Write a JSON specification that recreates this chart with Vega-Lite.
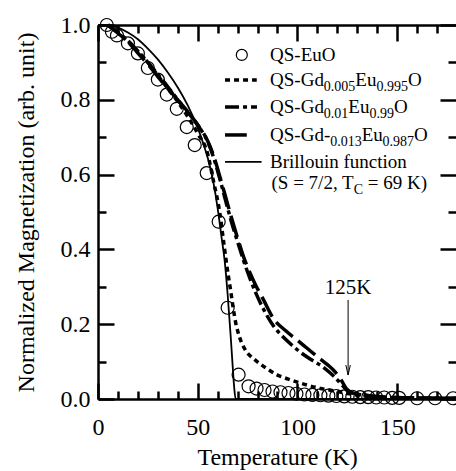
{
  "$schema": "https://vega.github.io/schema/vega-lite/v6.json",
  "width": 358,
  "height": 374,
  "autosize": {"type": "none"},
  "padding": {"left": 98, "top": 25, "right": 0, "bottom": 72},
  "config": {
    "view": {"stroke": null},
    "axis": {
      "domainColor": "black", "domainWidth": 2.5,
      "tickColor": "black", "tickWidth": 2.5,
      "labelFont": "Liberation Serif", "labelFontSize": 24, "labelColor": "black",
      "titleFont": "Liberation Serif", "titleFontSize": 24, "titleFontWeight": "normal", "titleColor": "black",
      "grid": false
    },
    "point": {"shape": "circle", "filled": false, "stroke": "black", "strokeWidth": 1.2, "size": 169, "opacity": 1},
    "text": {"font": "Liberation Serif", "color": "black"}
  },
  "resolve": {"axis": {"x": "independent", "y": "independent"}},
  "layer": [
    {
      "data": {"values": [
        {"T": 4.4, "M": 1.0}, {"T": 7, "M": 0.982}, {"T": 9.5, "M": 0.972}, {"T": 15, "M": 0.951}
      ]},
      "mark": "point",
      "encoding": {
        "x": {"field": "T", "type": "quantitative", "scale": {"domain": [0, 179.5], "nice": false},
          "axis": {"orient": "bottom", "values": [0, 50, 100, 150], "ticks": false, "domain": true, "labelPadding": 16, "labelFlush": false, "titlePadding": 6,
            "title": "Temperature (K)"}},
        "y": {"field": "M", "type": "quantitative", "scale": {"domain": [0, 1], "nice": false},
          "axis": {"orient": "left", "values": [0, 0.2, 0.4, 0.6, 0.8, 1.0], "format": ".1f", "ticks": false, "domain": true, "labelPadding": 8, "labelFlush": false, "titlePadding": 22,
            "title": "Normalized Magnetization (arb. unit)"}}
      }
    },
    {
      "data": {"values": [
        {"T": 20, "M": 0.924}, {"T": 25, "M": 0.885}, {"T": 30, "M": 0.854}, {"T": 34.5, "M": 0.814},
        {"T": 39.5, "M": 0.776}, {"T": 44.5, "M": 0.727}
      ]},
      "mark": "point",
      "encoding": {
        "x": {"field": "T", "type": "quantitative",
          "axis": {"orient": "bottom", "values": [0, 50, 100, 150], "tickSize": -16, "labels": false, "domain": false, "title": null}},
        "y": {"field": "M", "type": "quantitative",
          "axis": {"orient": "left", "values": [0, 0.2, 0.4, 0.6, 0.8, 1.0], "tickSize": -16, "labels": false, "domain": false, "title": null}}
      }
    },
    {
      "data": {"values": [
        {"T": 48.5, "M": 0.679}, {"T": 54.5, "M": 0.604}, {"T": 60.5, "M": 0.474}, {"T": 65, "M": 0.244}
      ]},
      "mark": "point",
      "encoding": {
        "x": {"field": "T", "type": "quantitative",
          "axis": {"orient": "bottom", "values": [10, 20, 30, 40, 60, 70, 80, 90, 110, 120, 130, 140, 160, 170], "tickSize": -8, "labels": false, "domain": false, "title": null}},
        "y": {"field": "M", "type": "quantitative",
          "axis": {"orient": "left", "values": [0.1, 0.3, 0.5, 0.7, 0.9], "tickSize": -8, "labels": false, "domain": false, "title": null}}
      }
    },
    {
      "data": {"values": [
        {"T": 70.5, "M": 0.065}, {"T": 75.5, "M": 0.034}, {"T": 79.5, "M": 0.028}, {"T": 83.5, "M": 0.024},
        {"T": 87.5, "M": 0.02}, {"T": 91.5, "M": 0.018}, {"T": 95.5, "M": 0.016}, {"T": 99.5, "M": 0.014},
        {"T": 103.5, "M": 0.012}, {"T": 107.5, "M": 0.011}
      ]},
      "mark": "point",
      "encoding": {
        "x": {"field": "T", "type": "quantitative",
          "axis": {"orient": "top", "values": [0, 50, 100, 150], "tickSize": -16, "labels": false, "domain": true, "title": null}},
        "y": {"field": "M", "type": "quantitative",
          "axis": {"orient": "right", "values": [0, 0.2, 0.4, 0.6, 0.8, 1.0], "tickSize": -16, "labels": false, "domain": false, "title": null}}
      }
    },
    {
      "data": {"values": [
        {"T": 111.5, "M": 0.01}, {"T": 115.5, "M": 0.009}, {"T": 119.5, "M": 0.008}, {"T": 123.5, "M": 0.007},
        {"T": 127.5, "M": 0.006}, {"T": 131.5, "M": 0.005}, {"T": 135.5, "M": 0.005}, {"T": 139.5, "M": 0.004},
        {"T": 143.5, "M": 0.004}, {"T": 147.5, "M": 0.003}, {"T": 151, "M": 0.003}, {"T": 160, "M": 0.002},
        {"T": 169, "M": 0.002}, {"T": 178, "M": 0.002}
      ]},
      "mark": "point",
      "encoding": {
        "x": {"field": "T", "type": "quantitative",
          "axis": {"orient": "top", "values": [10, 20, 30, 40, 60, 70, 80, 90, 110, 120, 130, 140, 160, 170], "tickSize": -8, "labels": false, "domain": false, "title": null}},
        "y": {"field": "M", "type": "quantitative",
          "axis": {"orient": "right", "values": [0.1, 0.3, 0.5, 0.7, 0.9], "tickSize": -8, "labels": false, "domain": false, "title": null}}
      }
    },
    {
      "resolve": {"axis": {"x": "shared", "y": "shared"}},
      "encoding": {
        "x": {"axis": {"orient": "bottom", "labels": false, "ticks": false, "domain": false, "title": null}},
        "y": {"axis": {"orient": "left", "labels": false, "ticks": false, "domain": false, "title": null}}
      },
      "layer": [
        {
          "data": {"values": [
            {"T": 0, "M": 1.0}, {"T": 5, "M": 0.999}, {"T": 10, "M": 0.993}, {"T": 15, "M": 0.98},
            {"T": 20, "M": 0.962}, {"T": 25, "M": 0.937}, {"T": 30, "M": 0.908}, {"T": 35, "M": 0.873},
            {"T": 40, "M": 0.833}, {"T": 45, "M": 0.785}, {"T": 50, "M": 0.725}, {"T": 53, "M": 0.68},
            {"T": 56, "M": 0.625}, {"T": 58, "M": 0.575}, {"T": 60, "M": 0.51}, {"T": 62, "M": 0.43},
            {"T": 63.5, "M": 0.37}, {"T": 65, "M": 0.28}, {"T": 66.5, "M": 0.17}, {"T": 67.5, "M": 0.09},
            {"T": 68.3, "M": 0.03}, {"T": 69, "M": 0.0}, {"T": 179.5, "M": 0.0}
          ]},
          "mark": {"type": "line", "stroke": "black", "strokeWidth": 1.8, "interpolate": "monotone"},
          "encoding": {"x": {"field": "T", "type": "quantitative"}, "y": {"field": "M", "type": "quantitative"}}
        },
        {
          "data": {"values": [
            {"T": 5, "M": 1.0}, {"T": 10, "M": 0.98}, {"T": 15, "M": 0.955}, {"T": 20, "M": 0.93},
            {"T": 25, "M": 0.9}, {"T": 30, "M": 0.865}, {"T": 35, "M": 0.83}, {"T": 40, "M": 0.795},
            {"T": 45, "M": 0.755}, {"T": 50, "M": 0.71}, {"T": 55, "M": 0.655}, {"T": 58, "M": 0.58},
            {"T": 61, "M": 0.5}, {"T": 63, "M": 0.42}, {"T": 64.5, "M": 0.36}, {"T": 66.5, "M": 0.29},
            {"T": 69, "M": 0.205}, {"T": 71, "M": 0.165}, {"T": 74, "M": 0.13}, {"T": 78, "M": 0.108},
            {"T": 81, "M": 0.095}, {"T": 85, "M": 0.08}, {"T": 90, "M": 0.064}, {"T": 95, "M": 0.054},
            {"T": 100, "M": 0.045}, {"T": 105, "M": 0.037}, {"T": 111, "M": 0.029}, {"T": 116, "M": 0.024},
            {"T": 121, "M": 0.019}, {"T": 126, "M": 0.014}, {"T": 130, "M": 0.01}, {"T": 135, "M": 0.007},
            {"T": 140, "M": 0.005}, {"T": 150, "M": 0.003}, {"T": 165, "M": 0.002}, {"T": 179.5, "M": 0.002}
          ]},
          "mark": {"type": "line", "stroke": "black", "strokeWidth": 3.5, "strokeDash": [5, 4], "strokeCap": "butt", "interpolate": "monotone"},
          "encoding": {"x": {"field": "T", "type": "quantitative"}, "y": {"field": "M", "type": "quantitative"}}
        },
        {
          "data": {"values": [
            {"T": 5, "M": 1.0}, {"T": 10, "M": 0.98}, {"T": 15, "M": 0.958}, {"T": 20, "M": 0.93},
            {"T": 25, "M": 0.9}, {"T": 30, "M": 0.868}, {"T": 35, "M": 0.835}, {"T": 40, "M": 0.8},
            {"T": 45, "M": 0.768}, {"T": 50, "M": 0.732}, {"T": 55, "M": 0.688}, {"T": 58, "M": 0.645},
            {"T": 61, "M": 0.59}, {"T": 64, "M": 0.53}, {"T": 67, "M": 0.472}, {"T": 70, "M": 0.42},
            {"T": 73, "M": 0.37}, {"T": 76, "M": 0.325}, {"T": 79, "M": 0.285}, {"T": 83, "M": 0.24},
            {"T": 88, "M": 0.195}, {"T": 93, "M": 0.165}, {"T": 97, "M": 0.145}, {"T": 101, "M": 0.127},
            {"T": 107, "M": 0.105}, {"T": 113, "M": 0.085}, {"T": 118, "M": 0.062}, {"T": 122, "M": 0.04},
            {"T": 125, "M": 0.022}, {"T": 128, "M": 0.015}, {"T": 132, "M": 0.011}, {"T": 138, "M": 0.007},
            {"T": 145, "M": 0.004}, {"T": 155, "M": 0.003}, {"T": 179.5, "M": 0.002}
          ]},
          "mark": {"type": "line", "stroke": "black", "strokeWidth": 3.5, "strokeDash": [14, 4, 4, 4], "strokeCap": "butt", "interpolate": "monotone"},
          "encoding": {"x": {"field": "T", "type": "quantitative"}, "y": {"field": "M", "type": "quantitative"}}
        },
        {
          "data": {"values": [
            {"T": 5, "M": 1.0}, {"T": 10, "M": 0.978}, {"T": 15, "M": 0.955}, {"T": 20, "M": 0.925},
            {"T": 25, "M": 0.895}, {"T": 30, "M": 0.862}, {"T": 35, "M": 0.83}, {"T": 40, "M": 0.8},
            {"T": 45, "M": 0.767}, {"T": 50, "M": 0.733}, {"T": 55, "M": 0.69}, {"T": 58, "M": 0.65},
            {"T": 61, "M": 0.596}, {"T": 64, "M": 0.54}, {"T": 67, "M": 0.483}, {"T": 70, "M": 0.43},
            {"T": 73, "M": 0.38}, {"T": 76, "M": 0.34}, {"T": 79, "M": 0.305}, {"T": 83, "M": 0.265},
            {"T": 88, "M": 0.215}, {"T": 94, "M": 0.183}, {"T": 100, "M": 0.157}, {"T": 105, "M": 0.135},
            {"T": 110, "M": 0.113}, {"T": 115, "M": 0.092}, {"T": 119, "M": 0.072}, {"T": 122, "M": 0.05},
            {"T": 124.5, "M": 0.028}, {"T": 127, "M": 0.018}, {"T": 131, "M": 0.013}, {"T": 136, "M": 0.009},
            {"T": 142, "M": 0.006}, {"T": 150, "M": 0.004}, {"T": 160, "M": 0.003}, {"T": 179.5, "M": 0.002}
          ]},
          "mark": {"type": "line", "stroke": "black", "strokeWidth": 3.5, "strokeDash": [22, 7], "strokeCap": "butt", "interpolate": "monotone"},
          "encoding": {"x": {"field": "T", "type": "quantitative"}, "y": {"field": "M", "type": "quantitative"}}
        },
        {
          "data": {"values": [{}]},
          "mark": {"type": "point", "size": 121},
          "encoding": {"x": {"datum": 72.1}, "y": {"datum": 0.92}}
        },
        {
          "data": {"values": [{}]},
          "mark": {"type": "rule", "stroke": "black", "strokeWidth": 3.5, "strokeDash": [5, 4], "strokeCap": "butt"},
          "encoding": {"x": {"datum": 63.7}, "x2": {"datum": 79.6}, "y": {"datum": 0.853}}
        },
        {
          "data": {"values": [{}]},
          "mark": {"type": "rule", "stroke": "black", "strokeWidth": 3.5, "strokeDash": [14, 4, 4, 4], "strokeCap": "butt"},
          "encoding": {"x": {"datum": 63.7}, "x2": {"datum": 79.7}, "y": {"datum": 0.781}}
        },
        {
          "data": {"values": [{}]},
          "mark": {"type": "rule", "stroke": "black", "strokeWidth": 3.5, "strokeDash": [22, 7], "strokeCap": "butt"},
          "encoding": {"x": {"datum": 63.7}, "x2": {"datum": 74.6}, "y": {"datum": 0.706}}
        },
        {
          "data": {"values": [{}]},
          "mark": {"type": "rule", "stroke": "black", "strokeWidth": 1.8},
          "encoding": {"x": {"datum": 63.7}, "x2": {"datum": 82.0}, "y": {"datum": 0.634}}
        },
        {"data": {"values": [{}]}, "mark": {"type": "text", "text": "QS-EuO", "fontSize": 19, "align": "left", "baseline": "middle"},
          "encoding": {"x": {"datum": 86.26}, "y": {"datum": 0.92}}},

        {"data": {"values": [{}]}, "mark": {"type": "text", "text": "QS-Gd", "fontSize": 19, "align": "left", "baseline": "middle"},
          "encoding": {"x": {"datum": 86.26}, "y": {"datum": 0.853}}},
        {"data": {"values": [{}]}, "mark": {"type": "text", "text": "0.005", "fontSize": 14, "align": "left", "baseline": "middle", "dy": 7},
          "encoding": {"x": {"datum": 113.2}, "y": {"datum": 0.853}}},
        {"data": {"values": [{}]}, "mark": {"type": "text", "text": "Eu", "fontSize": 19, "align": "left", "baseline": "middle"},
          "encoding": {"x": {"datum": 129.0}, "y": {"datum": 0.853}}},
        {"data": {"values": [{}]}, "mark": {"type": "text", "text": "0.995", "fontSize": 14, "align": "left", "baseline": "middle", "dy": 7},
          "encoding": {"x": {"datum": 139.6}, "y": {"datum": 0.853}}},
        {"data": {"values": [{}]}, "mark": {"type": "text", "text": "O", "fontSize": 19, "align": "left", "baseline": "middle"},
          "encoding": {"x": {"datum": 155.4}, "y": {"datum": 0.853}}},

        {"data": {"values": [{}]}, "mark": {"type": "text", "text": "QS-Gd", "fontSize": 19, "align": "left", "baseline": "middle"},
          "encoding": {"x": {"datum": 86.26}, "y": {"datum": 0.781}}},
        {"data": {"values": [{}]}, "mark": {"type": "text", "text": "0.01", "fontSize": 14, "align": "left", "baseline": "middle", "dy": 7},
          "encoding": {"x": {"datum": 113.2}, "y": {"datum": 0.781}}},
        {"data": {"values": [{}]}, "mark": {"type": "text", "text": "Eu", "fontSize": 19, "align": "left", "baseline": "middle"},
          "encoding": {"x": {"datum": 125.5}, "y": {"datum": 0.781}}},
        {"data": {"values": [{}]}, "mark": {"type": "text", "text": "0.99", "fontSize": 14, "align": "left", "baseline": "middle", "dy": 7},
          "encoding": {"x": {"datum": 136.1}, "y": {"datum": 0.781}}},
        {"data": {"values": [{}]}, "mark": {"type": "text", "text": "O", "fontSize": 19, "align": "left", "baseline": "middle"},
          "encoding": {"x": {"datum": 148.4}, "y": {"datum": 0.781}}},

        {"data": {"values": [{}]}, "mark": {"type": "text", "text": "QS-Gd-", "fontSize": 19, "align": "left", "baseline": "middle"},
          "encoding": {"x": {"datum": 86.26}, "y": {"datum": 0.706}}},
        {"data": {"values": [{}]}, "mark": {"type": "text", "text": "0.013", "fontSize": 14, "align": "left", "baseline": "middle", "dy": 7},
          "encoding": {"x": {"datum": 116.4}, "y": {"datum": 0.706}}},
        {"data": {"values": [{}]}, "mark": {"type": "text", "text": "Eu", "fontSize": 19, "align": "left", "baseline": "middle"},
          "encoding": {"x": {"datum": 132.2}, "y": {"datum": 0.706}}},
        {"data": {"values": [{}]}, "mark": {"type": "text", "text": "0.987", "fontSize": 14, "align": "left", "baseline": "middle", "dy": 7},
          "encoding": {"x": {"datum": 142.7}, "y": {"datum": 0.706}}},
        {"data": {"values": [{}]}, "mark": {"type": "text", "text": "O", "fontSize": 19, "align": "left", "baseline": "middle"},
          "encoding": {"x": {"datum": 158.5}, "y": {"datum": 0.706}}},

        {"data": {"values": [{}]}, "mark": {"type": "text", "text": "Brillouin function", "fontSize": 19, "align": "left", "baseline": "middle"},
          "encoding": {"x": {"datum": 86.26}, "y": {"datum": 0.634}}},

        {"data": {"values": [{}]}, "mark": {"type": "text", "text": "(S = 7/2, T", "fontSize": 19, "align": "left", "baseline": "middle"},
          "encoding": {"x": {"datum": 87.0}, "y": {"datum": 0.578}}},
        {"data": {"values": [{}]}, "mark": {"type": "text", "text": "C", "fontSize": 14, "align": "left", "baseline": "middle", "dy": 7},
          "encoding": {"x": {"datum": 128.2}, "y": {"datum": 0.578}}},
        {"data": {"values": [{}]}, "mark": {"type": "text", "text": "= 69 K)", "fontSize": 19, "align": "left", "baseline": "middle"},
          "encoding": {"x": {"datum": 135.3}, "y": {"datum": 0.578}}},

        {"data": {"values": [{}]}, "mark": {"type": "text", "text": "125K", "fontSize": 21, "align": "center", "baseline": "middle"},
          "encoding": {"x": {"datum": 125.4}, "y": {"datum": 0.298}}},
        {"data": {"values": [{}]}, "mark": {"type": "rule", "stroke": "black", "strokeWidth": 1},
          "encoding": {"x": {"datum": 125.4}, "y": {"datum": 0.265}, "y2": {"datum": 0.064}}},
        {"data": {"values": [{}]}, "mark": {"type": "point", "shape": "M-0.45,-1L0,1L0.45,-1", "strokeWidth": 1, "size": 100},
          "encoding": {"x": {"datum": 125.4}, "y": {"datum": 0.0775}}}
      ]
    }
  ]
}
